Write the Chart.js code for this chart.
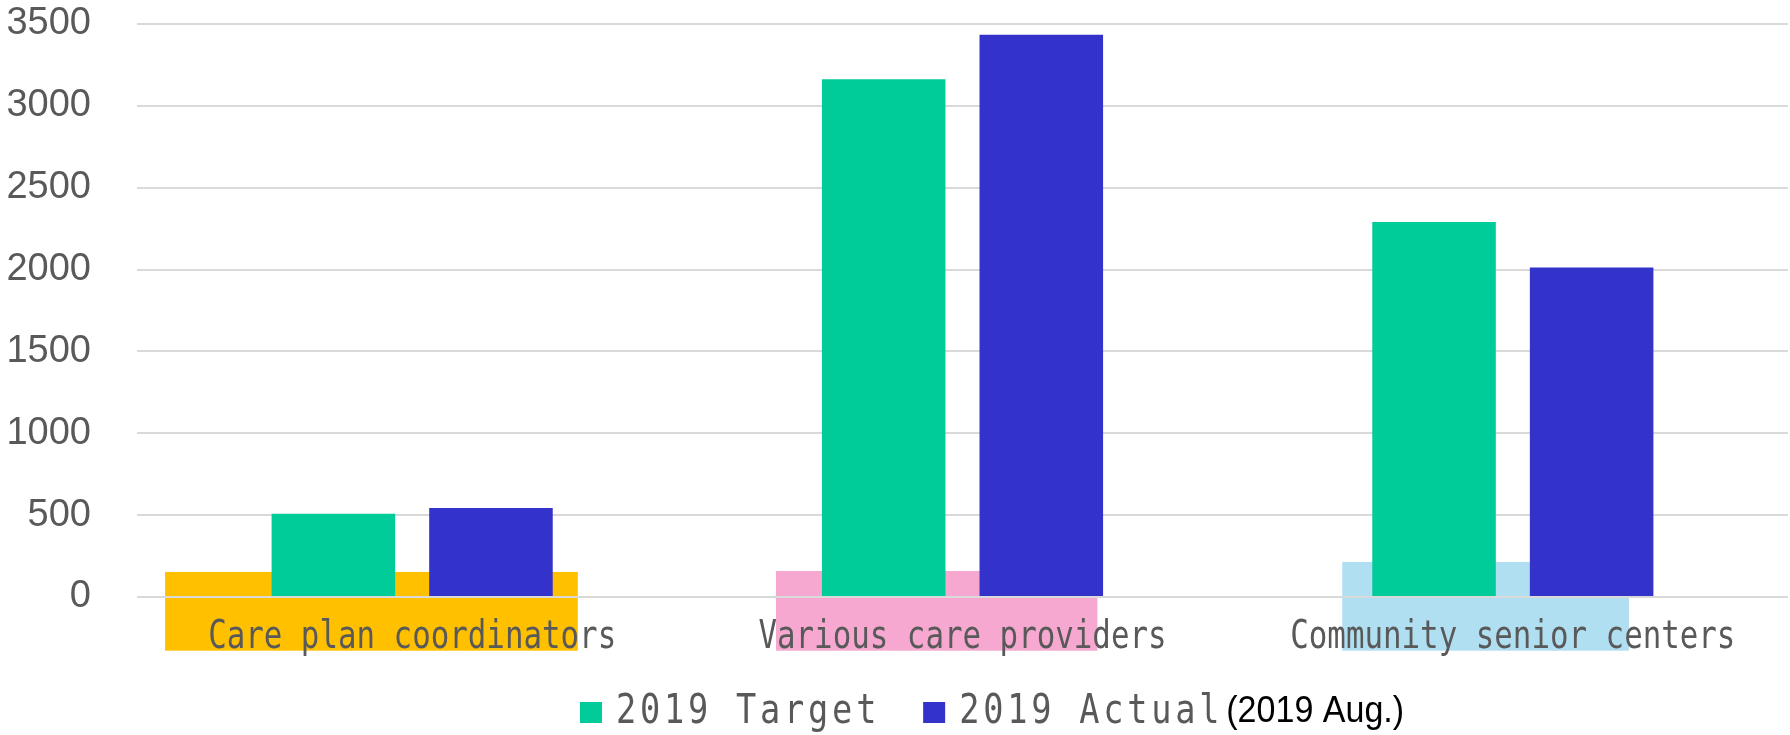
<!DOCTYPE html>
<html>
<head>
<meta charset="utf-8">
<script src="https://cdn.jsdelivr.net/npm/chart.js@4.4.1/dist/chart.umd.min.js"></script>
<style>
  html, body { margin: 0; padding: 0; background: #fff; }
  #wrap { width: 1790px; height: 735px; }
</style>
</head>
<body>
<div id="wrap"><canvas id="chart" width="1790" height="735"></canvas></div>
<script>
const categories = ['Care plan coordinators', 'Various care providers', 'Community senior centers'];
const target2019 = [508, 3162, 2291];
const actual2019 = [543, 3435, 2013];
const yTicks = [0, 500, 1000, 1500, 2000, 2500, 3000, 3500];
const legendNote = '(2019 Aug.)';

// coloured boxes behind the category names: value range and span on the category axis
const boxTop = [153, 159, 214];
const boxBottom = [-328, -328, -328];
const boxFrom = [-0.449, 0.661, 1.690];
const boxTo = [0.301, 1.245, 2.211];
const boxColors = ['#FFC000', '#F6A8D0', '#B1DFF2'];

const GREY = '#595959';
const MONO = '"DejaVu Sans Mono", "Liberation Mono", monospace';
const SANS = '"Liberation Sans", Arial, sans-serif';

const labelBoxes = {
  id: 'labelBoxes',
  beforeDraw(chart) {
    const { ctx, scales: { x, y } } = chart;
    ctx.save();
    boxTop.forEach((top, i) => {
      const left = x.getPixelForValue(boxFrom[i]);
      const right = x.getPixelForValue(boxTo[i]);
      const yTop = y.getPixelForValue(top);
      const yBot = y.getPixelForValue(boxBottom[i]);
      ctx.fillStyle = boxColors[i];
      ctx.fillRect(left, yTop, right - left, yBot - yTop);
    });
    ctx.restore();
  }
};

const categoryLabels = {
  id: 'categoryLabels',
  afterDraw(chart) {
    const { ctx, chartArea, scales: { x } } = chart;
    ctx.save();
    ctx.font = '39px ' + MONO;
    ctx.fillStyle = GREY;
    ctx.textAlign = 'center';
    ctx.textBaseline = 'alphabetic';
    categories.forEach((name, i) => {
      ctx.save();
      ctx.translate(x.getPixelForValue(i), chartArea.bottom + 51);
      ctx.scale(0.79, 1);
      ctx.fillText(name, 0, 0);
      ctx.restore();
    });
    ctx.restore();
  }
};

const bottomLegend = {
  id: 'bottomLegend',
  afterDraw(chart) {
    const { ctx } = chart;
    const baseline = 723;
    const squeeze = 0.82;
    let cx = 580;
    ctx.save();
    chart.data.datasets.forEach((ds, i) => {
      ctx.fillStyle = ds.backgroundColor;
      ctx.fillRect(cx, baseline - 21, 22, 21);
      cx += 36;
      ctx.save();
      ctx.font = '41px ' + MONO;
      ctx.letterSpacing = '4.6px';
      ctx.fillStyle = GREY;
      ctx.textAlign = 'left';
      ctx.textBaseline = 'alphabetic';
      ctx.translate(cx, baseline);
      ctx.scale(squeeze, 1);
      ctx.fillText(ds.label, 0, 0);
      const w = ctx.measureText(ds.label).width * squeeze;
      ctx.restore();
      cx += w;
      if (i === chart.data.datasets.length - 1) {
        ctx.save();
        ctx.font = '37px ' + SANS;
        ctx.fillStyle = '#000';
        ctx.textAlign = 'left';
        ctx.translate(cx + 3, baseline - 1);
        ctx.scale(0.92, 1);
        ctx.fillText(legendNote, 0, 0);
        ctx.restore();
      } else {
        cx += 43;
      }
    });
    ctx.restore();
  }
};

new Chart(document.getElementById('chart'), {
  type: 'bar',
  data: {
    labels: categories,
    datasets: [
      {
        label: '2019 Target',
        data: target2019,
        backgroundColor: '#00CC99',
        borderWidth: 0,
        categoryPercentage: 0.5727,
        barPercentage: 0.784,
      },
      {
        label: '2019 Actual',
        data: actual2019,
        backgroundColor: '#3333CC',
        borderWidth: 0,
        categoryPercentage: 0.5727,
        barPercentage: 0.784,
      },
    ],
  },
  options: {
    responsive: false,
    animation: false,
    devicePixelRatio: 1,
    layout: { padding: { top: 24, right: 2, left: 0, bottom: 0 } },
    plugins: {
      legend: { display: false },
      tooltip: { enabled: false },
    },
    scales: {
      x: {
        grid: { display: false },
        border: { display: false },
        ticks: { display: false },
        afterFit: (s) => { s.height = 138; },
      },
      y: {
        min: 0,
        max: 3500,
        afterBuildTicks: (s) => { s.ticks = yTicks.map((v) => ({ value: v })); },
        afterFit: (s) => { s.width = 137; },
        border: { display: false },
        grid: {
          color: '#D9D9D9',
          lineWidth: 2,
          drawTicks: true,
          tickLength: 46,
          tickColor: 'rgba(0,0,0,0)',
        },
        ticks: {
          color: GREY,
          padding: 0,
          font: { family: SANS, size: 38 },
          callback: (v) => String(v),
        },
      },
    },
  },
  plugins: [labelBoxes, categoryLabels, bottomLegend],
});
</script>
</body>
</html>
